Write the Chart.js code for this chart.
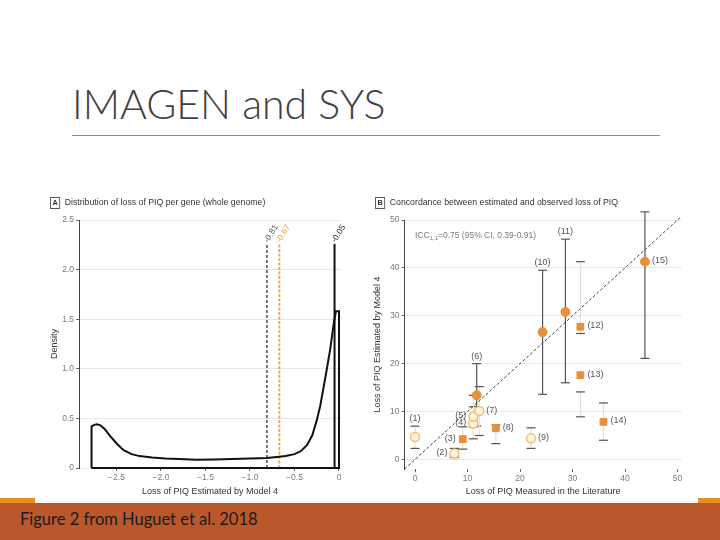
<!DOCTYPE html>
<html>
<head>
<meta charset="utf-8">
<script src="https://cdn.jsdelivr.net/npm/chart.js@4.4.1/dist/chart.umd.min.js"></script>
<style>
  html, body { margin: 0; padding: 0; }
  body { width: 720px; height: 540px; position: relative; overflow: hidden; background: #fff;
         font-family: 'Liberation Sans Narrow', 'Liberation Sans', sans-serif; }
  #title { position: absolute; left: 72px; top: 79px; font: 300 41px 'Lato', 'Open Sans', sans-serif; color: #404040; white-space: nowrap; }
  #rule { position: absolute; left: 72px; top: 135px; width: 588px; height: 1px; background: #8c8c8c; }
  .panel { position: absolute; font-size: 9.5px; color: #333; white-space: nowrap; z-index: 2;
           transform: scaleX(0.92); transform-origin: left center; }
  .panel span { display: inline-block; border: 1px solid #555; width: 9px; height: 10px; line-height: 10px;
                text-align: center; font-size: 8px; font-weight: bold; margin-right: 5px; }
  .box { position: absolute; }
  #boxA { left: 40px; top: 185px; }
  #boxB { left: 365px; top: 185px; }
  #footer { position: absolute; left: 0; top: 503px; width: 720px; height: 37px; background: #BA582C; }
  .accent { position: absolute; top: 498px; height: 5px; background: #E8901E; }
  #footText { position: absolute; left: 20px; top: 509px; font: 16.5px 'Lato', 'Open Sans', sans-serif; color: #1a1a1a; white-space: nowrap; }
</style>
</head>
<body>
<div id="title">IMAGEN and SYS</div>
<div id="rule"></div>

<div class="panel" style="left:50px; top:196px;"><span>A</span>Distribution of loss of PIQ per gene (whole genome)</div>
<div class="panel" style="left:375px; top:196px;"><span>B</span>Concordance between estimated and observed loss of PIQ</div>

<div class="box" id="boxA"><canvas id="chartA" width="320" height="315"></canvas></div>
<div class="box" id="boxB"><canvas id="chartB" width="330" height="315"></canvas></div>

<div class="accent" style="left:0; width:35px;"></div>
<div class="accent" style="left:698px; width:22px;"></div>
<div id="footer"></div>
<div id="footText">Figure 2 from Huguet et al. 2018</div>

<script>
Chart.defaults.font.family = "'Liberation Sans Narrow', 'Liberation Sans', sans-serif";
Chart.defaults.animation = false;

/*********************** panel A data *******************************/
const densityX = [-2.78, -2.78, -2.75, -2.72, -2.68, -2.63, -2.56, -2.49, -2.42, -2.33, -2.24, -2.1, -1.95, -1.8, -1.6,
  -1.4, -1.2, -1.0, -0.81, -0.7, -0.6, -0.5, -0.43, -0.36, -0.3, -0.25, -0.21, -0.18, -0.14, -0.1, -0.08, -0.06,
  -0.045, -0.035, 0, 0, -2.78];
const densityY = [0, 0.42, 0.435, 0.44, 0.43, 0.39, 0.31, 0.24, 0.18, 0.14, 0.12, 0.105, 0.095, 0.09, 0.082,
  0.085, 0.09, 0.095, 0.10, 0.11, 0.12, 0.14, 0.17, 0.23, 0.33, 0.48, 0.63, 0.78, 0.98, 1.19, 1.32, 1.45,
  1.53, 1.58, 1.58, 0, 0];
const cutoffValues = [-0.81, -0.67, -0.05];
const cutoffLabels = ['-0.81', '-0.67', '-0.05'];
const cutoffTop = 2.26;
const xTicksA = [-2.5, -2, -1.5, -1, -0.5, 0];
const xTickLabelsA = ['\u22122.5', '\u22122.0', '\u22121.5', '\u22121.0', '\u22120.5', '0'];
const yTicksA = [0, 0.5, 1, 1.5, 2, 2.5];
const yTickLabelsA = ['0', '0.5', '1.0', '1.5', '2.0', '2.5'];

/*********************** panel B data *******************************/
const studyLabels = ['(1)', '(2)', '(3)', '(4)', '(5)', '(6)', '(7)', '(8)', '(9)', '(10)', '(11)', '(12)', '(13)', '(14)', '(15)'];
const measuredLoss = [0, 7.5, 9.1, 11.1, 11.1, 11.75, 12.25, 15.4, 22.1, 24.3, 28.65, 31.5, 31.5, 35.9, 43.8];
const estimatedLoss = [4.7, 1.25, 4.25, 7.5, 8.9, 13.4, 10.1, 6.5, 4.4, 26.6, 30.8, 27.7, 17.6, 7.85, 41.3];
const ciLow = [2.3, 0.4, 2.15, 4.3, 6.8, 7.0, 5.0, 3.3, 2.3, 13.6, 16.0, 26.3, 8.9, 4.0, 21.1];
const ciHigh = [6.95, 2.3, 6.8, 11.0, 13.4, 20.0, 15.2, 7.2, 6.6, 39.5, 46.0, 41.3, 14.1, 11.8, 51.7];
const markerKind = ['open', 'open', 'square', 'open', 'open', 'dot', 'open', 'square', 'open', 'dot', 'dot', 'square', 'square', 'square', 'dot'];
const ticksB = [0, 10, 20, 30, 40, 50];
const identityLine = [-2, 50.5];

const tickFont = { size: 8.5 };
const tickColor = '#7a7a7a';

/*********************** panel A *******************************/
const cutoffColors = ['#6b6b6b', '#F2A444', '#111111'];
const cutoffTextColors = ['#555555', '#EFA04A', '#333333'];

const cutoffLabelPlugin = {
  id: 'cutoffLabels',
  afterDatasetsDraw(chart) {
    const {ctx, scales: {x, y}} = chart;
    ctx.save();
    ctx.font = "8.5px 'Liberation Sans Narrow', 'Liberation Sans', sans-serif";
    ctx.textAlign = 'left';
    ctx.textBaseline = 'middle';
    cutoffValues.forEach((v, i) => {
      const px = x.getPixelForValue(v);
      const py = y.getPixelForValue(cutoffTop);
      ctx.save();
      ctx.translate(px - 1, py - 2);
      ctx.rotate(-Math.PI * 58 / 180);
      ctx.fillStyle = cutoffTextColors[i];
      ctx.fillText(cutoffLabels[i], 0, 0);
      ctx.restore();
    });
    ctx.restore();
  }
};

const cutoffSets = cutoffValues.map((v, i) => ({
  data: [{x: v, y: 0}, {x: v, y: cutoffTop}],
  borderColor: cutoffColors[i],
  borderWidth: i === 2 ? 2 : 1.8,
  borderDash: i === 2 ? [] : (i === 0 ? [3, 2] : [3, 1.5]),
  pointRadius: 0
}));

new Chart(document.getElementById('chartA'), {
  type: 'line',
  data: {
    datasets: [{
      data: densityX.map((v, i) => ({x: v, y: densityY[i]})),
      borderColor: '#111',
      borderWidth: 2,
      pointRadius: 0,
      tension: 0,
      fill: false,
      clip: false
    }, ...cutoffSets]
  },
  options: {
    responsive: false,
    layout: { padding: { top: 35, right: 19, left: 0, bottom: 0 } },
    plugins: { legend: false, tooltip: { enabled: false } },
    scales: {
      x: {
        type: 'linear',
        min: -2.921,
        max: 0.0225,
        afterBuildTicks: axis => { axis.ticks = xTicksA.map(v => ({value: v})); },
        afterFit: axis => { axis.height = 32; },
        ticks: { autoSkip: false, maxRotation: 0, font: tickFont, color: tickColor, padding: 2,
                 callback: (v, i) => xTickLabelsA[i] },
        grid: { drawOnChartArea: false, tickLength: 3, tickColor: '#666' },
        border: { display: false },
        title: { display: true, text: 'Loss of PIQ Estimated by Model 4', color: '#333',
                 font: { size: 9 }, padding: { top: 0, bottom: 3.5 } }
      },
      y: {
        min: 0,
        max: 2.5,
        afterBuildTicks: axis => { axis.ticks = yTicksA.map(v => ({value: v})); },
        afterFit: axis => { axis.width = 39; },
        ticks: { autoSkip: false, font: tickFont, color: tickColor, padding: 2,
                 callback: (v, i) => yTickLabelsA[i] },
        grid: { color: '#e6e6e6', tickLength: 3, tickColor: '#666' },
        border: { display: true, color: '#444', width: 1 },
        title: { display: true, text: 'Density', color: '#333', font: { size: 9 }, padding: { top: 9, bottom: 0 } }
      }
    }
  },
  plugins: [cutoffLabelPlugin]
});

/*********************** panel B *******************************/
const labelSide = { '(1)': 'above', '(2)': 'left', '(3)': 'left', '(4)': 'left', '(5)': 'left', '(6)': 'above',
  '(7)': 'right', '(8)': 'right', '(9)': 'right', '(10)': 'above', '(11)': 'above', '(12)': 'right',
  '(13)': 'right', '(14)': 'right', '(15)': 'right' };

const errorBarPlugin = {
  id: 'errorBars',
  beforeDatasetsDraw(chart) {
    const {ctx, scales: {x, y}} = chart;
    ctx.save();
    ctx.lineWidth = 1.2;
    measuredLoss.forEach((m, i) => {
      const px = x.getPixelForValue(m);
      const top = y.getPixelForValue(ciHigh[i]);
      const bot = y.getPixelForValue(ciLow[i]);
      ctx.strokeStyle = markerKind[i] === 'dot' ? '#555' : '#e8dfd2';
      ctx.beginPath(); ctx.moveTo(px, top); ctx.lineTo(px, bot); ctx.stroke();
      ctx.strokeStyle = '#555';
      [top, bot].forEach(py => {
        ctx.beginPath(); ctx.moveTo(px - 4.5, py); ctx.lineTo(px + 4.5, py); ctx.stroke();
      });
    });
    ctx.restore();
  },
  afterDatasetsDraw(chart) {
    const {ctx, scales: {x, y}} = chart;
    ctx.save();
    ctx.fillStyle = '#555';
    ctx.font = "9px 'Liberation Sans Narrow', 'Liberation Sans', sans-serif";
    studyLabels.forEach((lab, i) => {
      const px = x.getPixelForValue(measuredLoss[i]);
      const py = y.getPixelForValue(estimatedLoss[i]);
      const side = labelSide[lab];
      if (side === 'above') {
        ctx.textAlign = 'center'; ctx.textBaseline = 'bottom';
        ctx.fillText(lab, px, y.getPixelForValue(ciHigh[i]) - 3);
      } else if (side === 'left') {
        ctx.textAlign = 'right'; ctx.textBaseline = 'middle';
        ctx.fillText(lab, px - 7, py - 1);
      } else {
        ctx.textAlign = 'left'; ctx.textBaseline = 'middle';
        ctx.fillText(lab, px + 7, py - 1);
      }
    });
    // ICC annotation
    ctx.fillStyle = '#7a7a7a';
    ctx.textAlign = 'left';
    ctx.textBaseline = 'alphabetic';
    let tx = x.getPixelForValue(0);
    const ty = y.getPixelForValue(46.3);
    ctx.font = "8.5px 'Liberation Sans Narrow', 'Liberation Sans', sans-serif";
    ctx.fillText('ICC', tx, ty);
    tx += ctx.measureText('ICC').width;
    ctx.font = "6px 'Liberation Sans Narrow', 'Liberation Sans', sans-serif";
    ctx.fillText('1,1', tx, ty + 2);
    tx += ctx.measureText('1,1').width;
    ctx.font = "8.5px 'Liberation Sans Narrow', 'Liberation Sans', sans-serif";
    ctx.fillText('=0.75 (95% CI, 0.39-0.91)', tx, ty);
    ctx.restore();
  }
};

const pointsOf = kind => measuredLoss
  .map((m, i) => ({x: m, y: estimatedLoss[i], k: markerKind[i]}))
  .filter(p => p.k === kind);

new Chart(document.getElementById('chartB'), {
  type: 'scatter',
  data: {
    datasets: [{
      type: 'line',
      data: identityLine.map(v => ({x: v, y: v})),
      borderColor: '#333',
      borderWidth: 0.9,
      borderDash: [3, 2],
      pointRadius: 0,
      clip: false
    }, {
      data: pointsOf('open'),
      backgroundColor: '#FFF5DF',
      borderColor: '#F2BE78',
      borderWidth: 1.5,
      pointRadius: 4.5,
      clip: false
    }, {
      data: pointsOf('square'),
      pointStyle: 'rect',
      backgroundColor: '#E8913A',
      borderColor: '#E8913A',
      pointRadius: 4.8,
      clip: false
    }, {
      data: pointsOf('dot'),
      backgroundColor: '#E8913A',
      borderColor: '#E8913A',
      pointRadius: 4.5,
      clip: false
    }]
  },
  options: {
    responsive: false,
    layout: { padding: { top: 35, right: 13.3, left: 0, bottom: 0 } },
    plugins: { legend: false, tooltip: { enabled: false } },
    scales: {
      x: {
        type: 'linear',
        min: -2,
        max: 50.8,
        afterBuildTicks: axis => { axis.ticks = ticksB.map(v => ({value: v})); },
        afterFit: axis => { axis.height = 31; },
        ticks: { autoSkip: false, maxRotation: 0, font: tickFont, color: tickColor, padding: 2 },
        grid: { drawOnChartArea: false, tickLength: 3, tickColor: '#666' },
        border: { display: false },
        title: { display: true, text: 'Loss of PIQ Measured in the Literature', color: '#333',
                 font: { size: 9 }, padding: { top: 0, bottom: 3.5 } }
      },
      y: {
        min: -2,
        max: 50,
        afterBuildTicks: axis => { axis.ticks = ticksB.map(v => ({value: v})); },
        afterFit: axis => { axis.width = 39.5; },
        ticks: { autoSkip: false, font: tickFont, color: tickColor, padding: 2 },
        grid: { color: '#e6e6e6', tickLength: 3, tickColor: '#666' },
        border: { display: true, color: '#444', width: 1 },
        title: { display: true, text: 'Loss of PIQ Estimated by Model 4', color: '#333',
                 font: { size: 9 }, padding: { top: 7.5, bottom: 0 } }
      }
    }
  },
  plugins: [errorBarPlugin]
});
</script>
</body>
</html>
